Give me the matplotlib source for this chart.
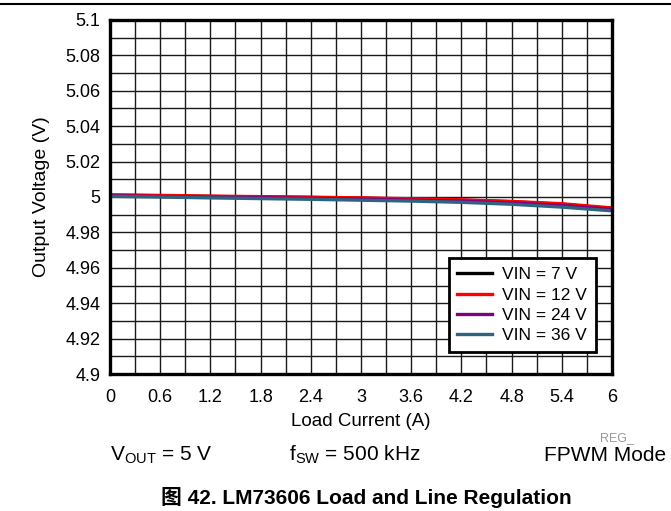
import matplotlib
matplotlib.use("Agg")
from matplotlib import pyplot as plt
from matplotlib.ticker import MultipleLocator

plt.rcParams['font.family'] = ['Liberation Sans', 'Noto Sans CJK SC', 'DejaVu Sans']

# load current (A)
current = [0, 0.6, 1.2, 1.8, 2.4, 3.0, 3.6, 4.2, 4.8, 5.4, 6.0]

# output voltage (V) per input voltage
vout_7 = [5.0010, 5.0007, 5.0003, 5.0000, 4.9997, 4.9993, 4.9988, 4.9982, 4.9973, 4.9959, 4.9935]
vout_12 = [5.0012, 5.0009, 5.0005, 5.0002, 4.9999, 4.9995, 4.9990, 4.9984, 4.9975, 4.9962, 4.9938]
vout_24 = [5.0007, 5.0003, 4.9999, 4.9996, 4.9992, 4.9988, 4.9982, 4.9976, 4.9966, 4.9952, 4.9929]
vout_36 = [5.0004, 5.0000, 4.9995, 4.9991, 4.9987, 4.9982, 4.9977, 4.9970, 4.9959, 4.9943, 4.9922]

labels = ['VIN = 7 V', 'VIN = 12 V', 'VIN = 24 V', 'VIN = 36 V']
colors = ['black', '#ff0000', '#800080', '#2e6480']

xticks = [0, 0.6, 1.2, 1.8, 2.4, 3.0, 3.6, 4.2, 4.8, 5.4, 6.0]
xticklabels = ['0', '0.6', '1.2', '1.8', '2.4', '3', '3.6', '4.2', '4.8', '5.4', '6']
yticks = [4.9, 4.92, 4.94, 4.96, 4.98, 5.0, 5.02, 5.04, 5.06, 5.08, 5.1]
yticklabels = ['4.9', '4.92', '4.94', '4.96', '4.98', '5', '5.02', '5.04', '5.06', '5.08', '5.1']

fig = plt.figure(figsize=(6.71, 5.11), dpi=100)
ax = fig.add_axes([110 / 671, 1 - 374 / 511, 502 / 671, 354 / 511])

for v, c, lab in zip([vout_7, vout_12, vout_24, vout_36], colors, labels):
    ax.plot(current, v, color=c, lw=2.4, label=lab)

ax.set_xlim(0, 6)
ax.set_ylim(4.9, 5.1)
ax.set_xticks(xticks)
ax.set_xticklabels(xticklabels)
ax.set_yticks(yticks)
ax.set_yticklabels(yticklabels)
ax.xaxis.set_minor_locator(MultipleLocator(0.3))
ax.yaxis.set_minor_locator(MultipleLocator(0.01))
ax.grid(True, which='both', color='#1a1a1a', lw=1.0)
ax.set_axisbelow(True)
ax.tick_params(which='both', length=0, labelsize=13)
ax.tick_params(axis='x', pad=11)
ax.tick_params(axis='y', pad=7)
for s in ax.spines.values():
    s.set_linewidth(2.4)

ax.set_xlabel('Load Current (A)', fontsize=13.5)
ax.xaxis.set_label_coords(0.5, -0.11)
ax.set_ylabel('Output Voltage (V)', fontsize=14)
ax.yaxis.set_label_coords(-0.12, 0.5)

leg = ax.legend(loc='lower right', bbox_to_anchor=(0.968, 0.062), fontsize=12.5,
                fancybox=False, framealpha=1, edgecolor='black',
                handlelength=2.0, handletextpad=0.6, borderpad=0.5,
                labelspacing=0.3, borderaxespad=0)
leg.get_frame().set_linewidth(2.0)

# page rule and footnotes
fig.add_artist(plt.Line2D([0, 1], [1 - 4 / 511, 1 - 4 / 511], color='black', lw=1.5))
fig.text(600 / 671, 1 - 438 / 511, 'REG_', fontsize=9, color='#999999', va='center')
fig.text(110 / 671, 1 - 455 / 511, r'V$_{\mathregular{OUT}}$ = 5 V', fontsize=15, va='center')
fig.text(289 / 671, 1 - 455 / 511, r'f$_{\mathregular{SW}}$ = 500 kHz', fontsize=15, va='center')
fig.text(666 / 671, 1 - 455 / 511, 'FPWM Mode', fontsize=15, va='center', ha='right')
fig.text(366 / 671, 1 - 497 / 511, '图 42. LM73606 Load and Line Regulation',
         fontsize=15, fontweight='bold', ha='center', va='center')

fig.savefig('out.png', dpi=100)
